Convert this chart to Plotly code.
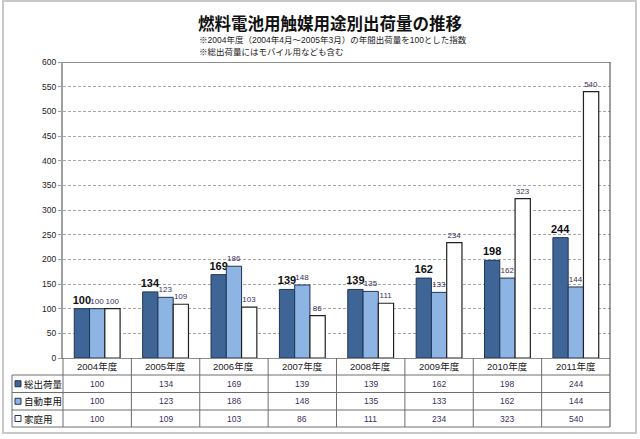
import plotly.graph_objects as go

categories = ["2004年度", "2005年度", "2006年度", "2007年度", "2008年度", "2009年度", "2010年度", "2011年度"]
series_names = ["総出荷量", "自動車用", "家庭用"]
total = [100, 134, 169, 139, 139, 162, 198, 244]
auto = [100, 123, 186, 148, 135, 133, 162, 144]
home = [100, 109, 103, 86, 111, 234, 323, 540]
y_ticks = [0, 50, 100, 150, 200, 250, 300, 350, 400, 450, 500, 550, 600]

title = "燃料電池用触媒用途別出荷量の推移"
note1 = "※2004年度（2004年4月～2005年3月）の年間出荷量を100とした指数"
note2 = "※総出荷量にはモバイル用なども含む"

W, H = 640, 439
ML, MR, MT, MB = 63, 30, 62, 81
PW, PH = W - ML - MR, H - MT - MB


def px(x):
    return (x - ML) / PW


def py(y):
    return (H - MB - y) / PH


DARK = "#3F6596"
LIGHT = "#8DB4E3"
WHITE = "#FFFFFF"
EDGE = "#1F3556"
NUMC = "#3B2F5E"
NUMFONT = "Liberation Sans, Noto Sans CJK JP"

fig = go.Figure()
fig.add_trace(go.Bar(x=categories, y=total, name=series_names[0],
                     marker=dict(color=DARK, line=dict(color=EDGE, width=1)),
                     text=[str(v) for v in total], textposition="outside",
                     textfont=dict(family=NUMFONT, size=11, color="#111111", weight="bold"),
                     constraintext="none", cliponaxis=False))
fig.add_trace(go.Bar(x=categories, y=auto, name=series_names[1],
                     marker=dict(color=LIGHT, line=dict(color=EDGE, width=1)),
                     text=[str(v) for v in auto], textposition="outside",
                     textfont=dict(family=NUMFONT, size=8, color=NUMC),
                     constraintext="none", cliponaxis=False))
fig.add_trace(go.Bar(x=categories, y=home, name=series_names[2],
                     marker=dict(color=WHITE, line=dict(color="#222222", width=1.2)),
                     text=[str(v) for v in home], textposition="outside",
                     textfont=dict(family=NUMFONT, size=8, color=NUMC),
                     constraintext="none", cliponaxis=False))

shapes = []
annotations = []


def ann(x, y, text, xref="paper", xanchor="center", font=None):
    annotations.append(dict(x=x, y=y, xref=xref, yref="paper", text=text, showarrow=False,
                            xanchor=xanchor, yanchor="middle", font=font))


# outer frame
shapes.append(dict(type="rect", xref="paper", yref="paper", x0=px(3), x1=px(636), y0=py(433), y1=py(1),
                   line=dict(color="#C8C8C8", width=2), layer="below"))
# top border of plot
shapes.append(dict(type="line", xref="paper", yref="y", x0=0, x1=1, y0=600, y1=600,
                   line=dict(color="#8C8C8C", width=2)))
# right border through table
shapes.append(dict(type="line", xref="paper", yref="paper", x0=1, x1=1, y0=py(427), y1=1,
                   line=dict(color="#404040", width=1)))

# table geometry (pixel rows)
row_lines = [375, 392.5, 410, 427]
row_centers = [(row_lines[i] + row_lines[i + 1]) / 2 for i in range(3)]
for yl in row_lines:
    shapes.append(dict(type="line", xref="paper", yref="paper", x0=px(12), x1=1, y0=py(yl), y1=py(yl),
                       line=dict(color="#6E6E6E", width=1)))
shapes.append(dict(type="line", xref="paper", yref="paper", x0=px(12), x1=px(12), y0=py(375), y1=py(427),
                   line=dict(color="#6E6E6E", width=1)))
shapes.append(dict(type="line", xref="paper", yref="paper", x0=0, x1=0, y0=py(358), y1=py(427),
                   line=dict(color="#6E6E6E", width=1)))
for i in range(len(categories) - 1):
    shapes.append(dict(type="line", xref="x", yref="paper", x0=i + 0.5, x1=i + 0.5, y0=py(358), y1=py(427),
                       line=dict(color="#6E6E6E", width=1)))

# header cells
for c in categories:
    ann(c, py(366.5), c, xref="x", font=dict(family=NUMFONT, size=9.5, color="#222222"))

# row labels and legend keys
key_colors = [DARK, LIGHT, WHITE]
for r, (name, vals) in enumerate(zip(series_names, [total, auto, home])):
    yc = row_centers[r]
    shapes.append(dict(type="rect", xref="paper", yref="paper", x0=px(15), x1=px(21),
                       y0=py(yc + 3), y1=py(yc - 3), fillcolor=key_colors[r],
                       line=dict(color=EDGE, width=1)))
    ann(px(22), py(yc), name, xanchor="left",
        font=dict(family="Noto Sans CJK JP", size=9.5, color="#111111"))
    for c, v in zip(categories, vals):
        ann(c, py(yc), str(v), xref="x", font=dict(family=NUMFONT, size=8.5, color=NUMC))

# title and notes
ann(px(330), py(23), "<b>" + title + "</b>",
    font=dict(family="Noto Sans CJK JP", size=16.5, color="#111111"))
ann(px(197), py(40), note1, xanchor="left", font=dict(family=NUMFONT, size=8.5, color="#222222"))
ann(px(197), py(52), note2, xanchor="left", font=dict(family=NUMFONT, size=8.5, color="#222222"))

fig.update_layout(
    width=W, height=H,
    margin=dict(l=ML, r=MR, t=MT, b=MB, pad=0),
    paper_bgcolor="white", plot_bgcolor="white",
    barmode="group", bargap=0.33, bargroupgap=0,
    showlegend=False,
    shapes=shapes, annotations=annotations,
    xaxis=dict(showticklabels=False, showgrid=False, showline=True, linecolor="#8C8C8C", linewidth=1,
               ticks="", fixedrange=True),
    yaxis=dict(range=[0, 600], tickvals=y_ticks, showgrid=True, gridcolor="#A6A6A6", griddash="3px,2px",
               gridwidth=1, showline=True, linecolor="#A0A0A0", linewidth=2, ticks="outside", ticklen=3,
               tickcolor="#A0A0A0", zeroline=False, fixedrange=True,
               tickfont=dict(family=NUMFONT, size=8.5, color="#222222")),
)

fig.write_html("out.html", config={"displayModeBar": False},
               post_script="document.body.style.margin='0';document.body.style.overflow='hidden';")
